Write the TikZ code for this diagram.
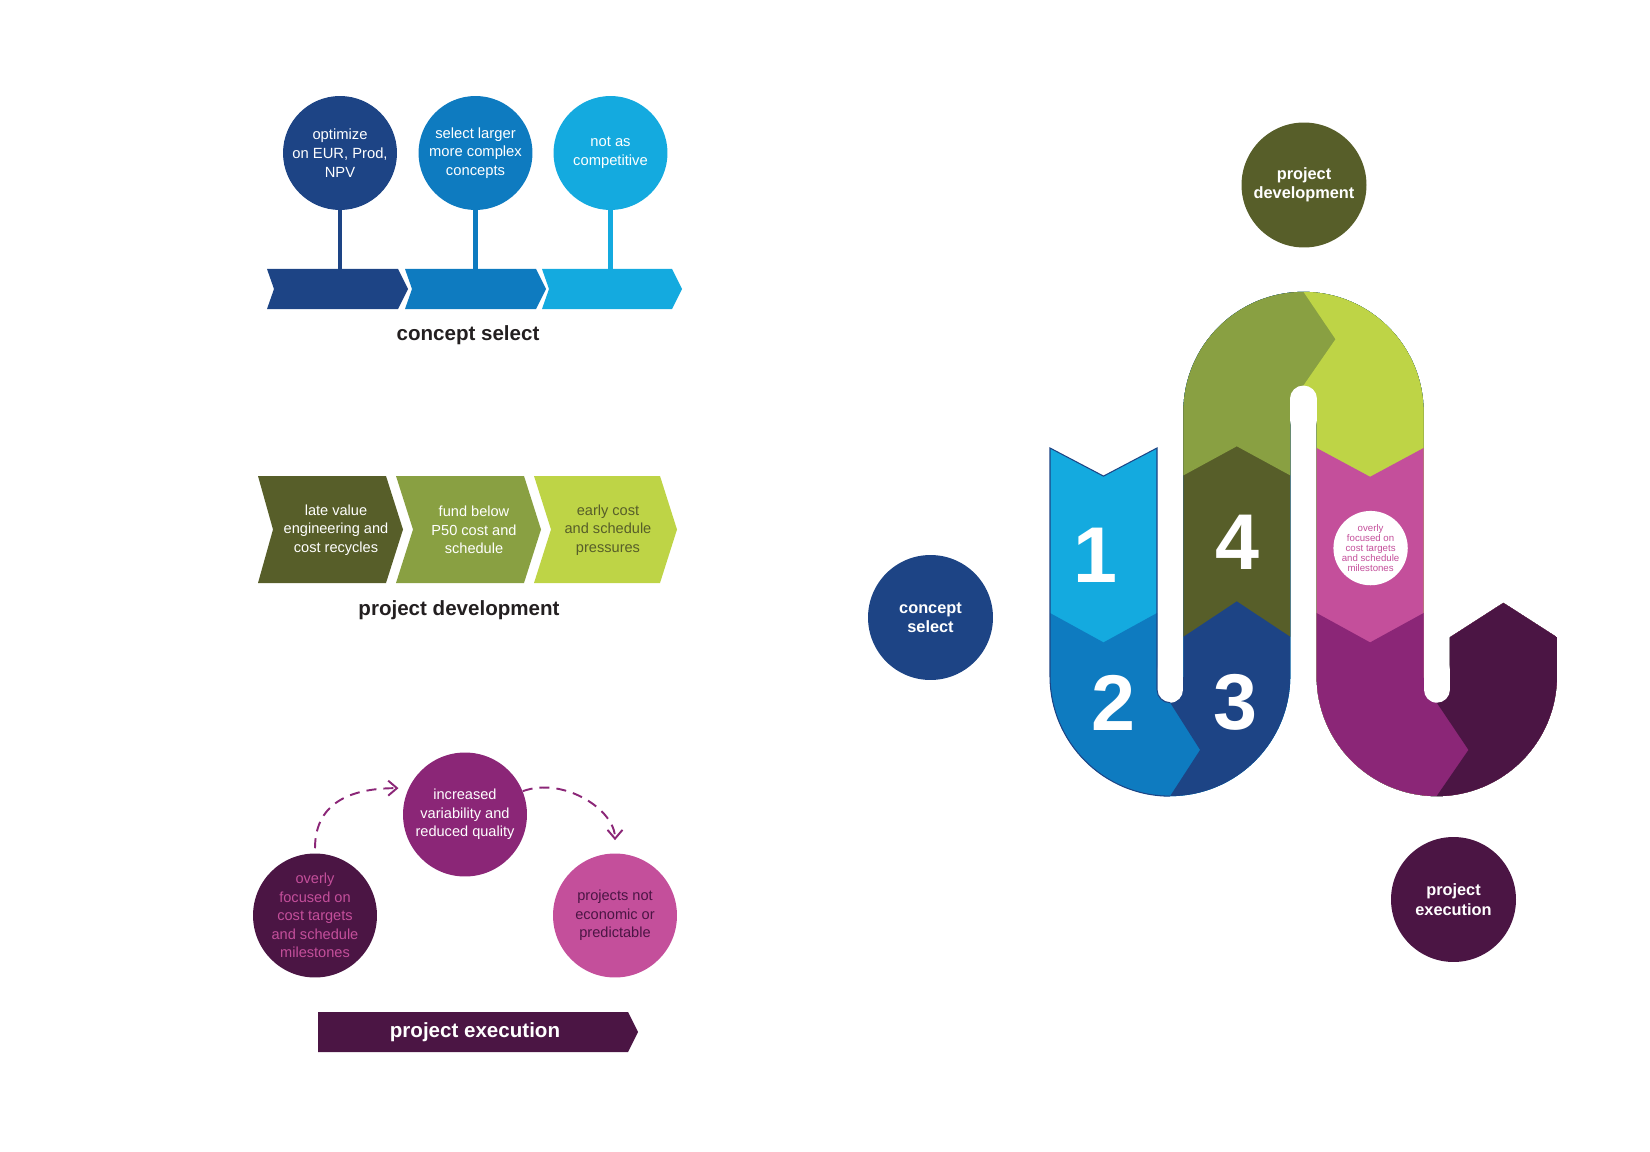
\documentclass[tikz,border=0pt]{standalone}
\usepackage{fontspec}
\setmainfont{Liberation Sans}
\usetikzlibrary{arrows.meta}

\definecolor{csNavy}{HTML}{1D4485}
\definecolor{csMid}{HTML}{0E7BC0}
\definecolor{csLight}{HTML}{14AADF}
\definecolor{pdDark}{HTML}{575E29}
\definecolor{pdMid}{HTML}{89A042}
\definecolor{pdLime}{HTML}{BED446}
\definecolor{peDark}{HTML}{4B1544}
\definecolor{peMid}{HTML}{8B2677}
\definecolor{pePink}{HTML}{C44F9B}
\definecolor{lblInk}{HTML}{231F20}

\tikzset{
  txt/.style={align=center,inner sep=0pt,font=\fontsize{8.3}{10.6}\selectfont},
  cBall/.style={circle,minimum size=2.28cm,inner sep=0pt,align=center,
        font=\fontsize{8.4}{10.7}\selectfont,text=white},
  pBall/.style={circle,minimum size=2.48cm,inner sep=0pt,align=center,
        font=\fontsize{8.3}{10.6}\selectfont},
  bigBall/.style={circle,minimum size=2.5cm,inner sep=0pt,align=center,
        font=\fontsize{9.3}{11}\selectfont\bfseries,text=white},
  secTitle/.style={font=\fontsize{11.7}{14}\selectfont\bfseries,text=lblInk},
  stem/.style={line width=2.3pt},
  dashArrow/.style={peMid,line width=1.1pt,dash pattern=on 5.7pt off 4pt,
        -{Straight Barb[length=5pt,width=8.5pt]}},
  digit/.style={font=\fontsize{45}{45}\selectfont\bfseries,text=white},
  band/.style={line width=2.14cm},
  slot/.style={white,line width=0.526cm,line cap=round},
}

% chevron: fill, left x, top y, width, height, tip depth, notch depth
\newcommand\chevfill[7]{\fill[#1] (#2,#3) -- ++(#4,0) -- ++(#6,-#5/2)
  -- ++(-#6,-#5/2) -- ++(-#4,0) -- ++(#7,#5/2) -- cycle;}
% centre line of the winding band
\def\serpent{(1103.5,-430) -- (1103.5,-676) arc[start angle=180,end angle=360,radius=66.65]
  -- (1236.8,-412) arc[start angle=180,end angle=0,radius=66.65]
  -- (1370.1,-676) arc[start angle=180,end angle=360,radius=66.65] -- (1503.4,-590)}

\begin{document}
\begin{tikzpicture}[x=0.02cm,y=0.02cm]
\useasboundingbox (0,0) rectangle (1650,-1152);

% concept select
\node[cBall,fill=csNavy]  (cs1) at (340,-153)   {optimize\\on EUR, Prod,\\NPV};
\node[cBall,fill=csMid]   (cs2) at (475.5,-153) {select larger\\more complex\\concepts};
\node[cBall,fill=csLight] (cs3) at (610.5,-153) {not as\\competitive};
\chevfill{csNavy}{267}{-269}{131}{40}{10}{7}
\chevfill{csMid}{405}{-269}{131}{40}{10}{7}
\chevfill{csLight}{542}{-269}{130}{40}{10}{7}
\coordinate (cs1t) at (340,-270);
\coordinate (cs2t) at (475.5,-270);
\coordinate (cs3t) at (610.5,-270);
\draw[stem,csNavy] (cs1) -- (cs1t);
\draw[stem,csMid] (cs2) -- (cs2t);
\draw[stem,csLight] (cs3) -- (cs3t);
\node[secTitle] (cstitle) at (468,-335) {concept select};

% project development
\chevfill{pdDark}{258}{-476}{128}{107}{17}{15}
\chevfill{pdMid}{396}{-476}{128}{107}{17}{17}
\chevfill{pdLime}{534}{-476}{126}{107}{17}{17}
\node[txt,text=white]  (pd1) at (336,-530) {late value\\engineering and\\cost recycles};
\node[txt,text=white]  (pd2) at (474,-530) {fund below\\P50 cost and\\schedule};
\node[txt,text=pdDark] (pd3) at (608,-530) {early cost\\and schedule\\pressures};
\node[secTitle] (pdtitle) at (459,-610) {project development};

% project execution
\node[pBall,fill=peDark,text=pePink] (pe1) at (315,-915.5) {overly\\focused on\\cost targets\\and schedule\\milestones};
\node[pBall,fill=peMid,text=white]   (pe2) at (465,-814.5) {increased\\variability and\\reduced quality};
\node[pBall,fill=pePink,text=peDark] (pe3) at (615,-915.5) {projects not\\economic or\\predictable};
\draw[dashArrow,shorten <=2.8pt,shorten >=5.7pt] (pe1.north) to[out=90,in=180,looseness=1.2] (pe2.155);
\draw[dashArrow,shorten >=7.4pt] (pe2.22) to[out=20,in=90] (pe3.north);
\chevfill{peDark}{318}{-1012}{310}{40}{10}{0}
\node[secTitle,text=white] (petitle) at (475,-1032) {project execution};

% right side
\node[bigBall,fill=pdDark] (rpd) at (1304,-185)     {project\\development};
\node[bigBall,fill=csNavy] (rcs) at (930.5,-617.5)  {concept\\select};
\node[bigBall,fill=peDark] (rpe) at (1453.5,-899.5) {project\\execution};

\begin{scope}
  \clip (1030,-437.5) -- (1103.5,-476.1) -- (1170.15,-441.1) -- (1170.15,-250) -- (1436.75,-250)
    -- (1436.75,-645.8) -- (1503.4,-602.9) -- (1570,-645.7) -- (1570,-830) -- (1030,-830) -- cycle;
  \draw[band,csLight] \serpent;
  \begin{scope}
    \clip (1030,-602) -- (1103.5,-642.4) -- (1170.15,-605.8) -- (1170.15,-250) -- (1600,-250)
      -- (1600,-830) -- (1030,-830) -- cycle;
    \draw[band,csMid] \serpent;
  \end{scope}
  \begin{scope}
    \clip (1170.15,-250) -- (1170.15,-702.7) -- (1200.1,-749.9) -- (1148.1,-830) -- (1600,-830)
      -- (1600,-250) -- cycle;
    \draw[band,csNavy] \serpent;
  \end{scope}
  \begin{scope}
    \clip (1170.15,-645.4) -- (1236.8,-601.2) -- (1303.45,-645.4) -- (1303.45,-830) -- (1600,-830)
      -- (1600,-250) -- (1170.15,-250) -- cycle;
    \draw[band,pdDark] \serpent;
  \end{scope}
  \begin{scope}
    \clip (1170.15,-482.6) -- (1236.8,-446.3) -- (1303.45,-482.6) -- (1303.45,-830) -- (1600,-830)
      -- (1600,-250) -- (1170.15,-250) -- cycle;
    \draw[band,pdMid] \serpent;
  \end{scope}
  \begin{scope}
    \clip (1303.45,-830) -- (1303.45,-385.5) -- (1335.5,-339.2) -- (1275.2,-250) -- (1600,-250)
      -- (1600,-830) -- cycle;
    \draw[band,pdLime] \serpent;
  \end{scope}
  \begin{scope}
    \clip (1303.45,-440.9) -- (1370.1,-476.8) -- (1436.75,-440.9) -- (1600,-440.9) -- (1600,-830)
      -- (1303.45,-830) -- cycle;
    \draw[band,pePink] \serpent;
  \end{scope}
  \begin{scope}
    \clip (1303.45,-605.8) -- (1370.1,-642.4) -- (1436.75,-605.8) -- (1600,-605.8) -- (1600,-830)
      -- (1303.45,-830) -- cycle;
    \draw[band,peMid] \serpent;
  \end{scope}
  \begin{scope}
    \clip (1436.75,-250) -- (1436.75,-702.7) -- (1468.5,-749.9) -- (1413.3,-830) -- (1600,-830)
      -- (1600,-250) -- cycle;
    \draw[band,peDark] \serpent;
  \end{scope}
\end{scope}
% slot ends
\draw[slot] (1170.15,-670) -- (1170.15,-689.55);
\draw[slot] (1303.45,-420) -- (1303.45,-398.65);
\draw[slot] (1436.75,-670) -- (1436.75,-689.55);
\draw[csNavy,line width=0.6pt] (1170.15,-796.15) arc[start angle=270,end angle=180,radius=120.15]
  -- (1050,-448) -- (1103.5,-476.1) -- (1157,-448) -- (1157,-689.55)
  arc[start angle=180,end angle=270,radius=13.15];

\node[digit] (d1) at (1095.8,-555.5) {1};
\node[digit] (d2) at (1113.3,-702.6) {2};
\node[digit] (d3) at (1235.2,-702.6) {3};
\node[digit] (d4) at (1237,-542)     {4};
\node[circle,fill=white,minimum size=1.448cm,inner sep=0pt,align=center,text=pePink,
      font=\fontsize{5.5}{5.7}\selectfont] (sw) at (1370.6,-548.1)
      {overly\\focused on\\cost targets\\and schedule\\milestones};
\end{tikzpicture}
\end{document}
